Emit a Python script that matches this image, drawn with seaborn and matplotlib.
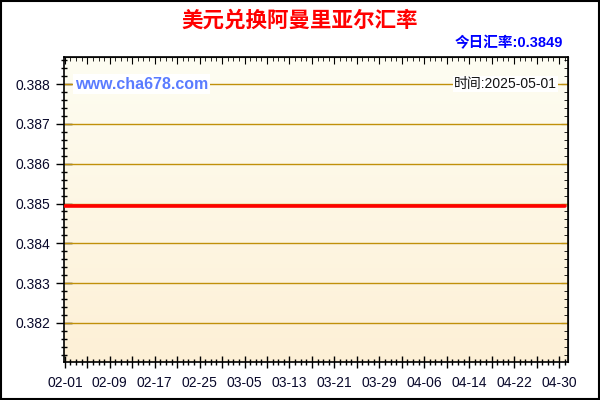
import numpy as np
import pandas as pd
import matplotlib
matplotlib.use("Agg")
import matplotlib.pyplot as plt
import matplotlib.dates as mdates
from matplotlib.colors import LinearSegmentedColormap
from matplotlib.patches import Rectangle
import seaborn as sns

# Data
dates = ["2025-02-01", "2025-05-01"]
rates = [0.38493, 0.38493]
title = "美元兑换阿曼里亚尔汇率"
today_rate = "今日汇率:0.3849"
stamp = "时间:2025-05-01"
site = "www.cha678.com"
y_ticks = [0.382, 0.383, 0.384, 0.385, 0.386, 0.387, 0.388]

sns.set_style("ticks")
plt.rcParams['font.family'] = ['Liberation Sans', 'Noto Sans CJK SC', 'DejaVu Sans']

df = pd.DataFrame({"date": pd.to_datetime(dates), "rate": rates})

fig = plt.figure(figsize=(6, 4), dpi=100)
ax = fig.add_axes([64 / 600, 1 - 362 / 400, 504 / 600, 305 / 400])

x0 = mdates.date2num(pd.Timestamp("2025-02-01")) - 0.15
x1 = mdates.date2num(pd.Timestamp("2025-05-01")) + 0.6
y0, y1 = 0.38102, 0.38868

# background gradient, light at the top
cmap = LinearSegmentedColormap.from_list("bg", ["#fefdf2", "#fdf0d6"])
grad = np.linspace(0, 1, 256).reshape(-1, 1)
ax.imshow(grad, cmap=cmap, aspect="auto", extent=[x0, x1, y0, y1],
          origin="upper", zorder=0)

for yv in y_ticks:
    ax.axhline(yv, color="#c0900a", lw=1, zorder=1)

sns.lineplot(data=df, x="date", y="rate", color="#ff0000", lw=2.6, ax=ax, zorder=3)

ax.set_xlim(x0, x1)
ax.set_ylim(y0, y1)
ax.set_xlabel("")
ax.set_ylabel("")

ax.yaxis.set_major_locator(plt.FixedLocator(y_ticks))
ax.yaxis.set_minor_locator(plt.MultipleLocator(0.0002))
ax.yaxis.set_major_formatter(plt.FormatStrFormatter("%.3f"))

start = pd.Timestamp("2025-02-01")
major = [mdates.date2num(start + pd.Timedelta(days=4 * i)) for i in range(23)]
labels = [(start + pd.Timedelta(days=4 * i)).strftime("%m-%d") if i % 2 == 0 else ""
          for i in range(23)]
ax.xaxis.set_major_locator(plt.FixedLocator(major))
ax.set_xticklabels(labels)
ax.xaxis.set_minor_locator(mdates.DayLocator())

ax.tick_params(axis="both", which="major", direction="inout", length=8, width=1,
               color="black", labelsize=10, labelcolor="#08082a", pad=6)
ax.tick_params(axis="both", which="minor", direction="inout", length=5, width=1, color="black")
ax.tick_params(axis="y", which="major", length=12, pad=4)

for side in ["left", "right", "top", "bottom"]:
    ax.spines[side].set_color("black")
    ax.spines[side].set_linewidth(1.2)

# inward ticks on top and right spines
top = ax.secondary_xaxis("top")
top.xaxis.set_major_locator(plt.FixedLocator(major))
top.xaxis.set_minor_locator(mdates.DayLocator())
top.tick_params(which="both", direction="in", length=3, labeltop=False, color="black")
top.tick_params(which="major", length=5)
right = ax.secondary_yaxis("right")
right.yaxis.set_major_locator(plt.FixedLocator(y_ticks))
right.yaxis.set_minor_locator(plt.MultipleLocator(0.0002))
right.tick_params(which="both", direction="in", length=3, labelright=False, color="black")
right.tick_params(which="major", length=5)

fig.text(0.5, 1 - 21 / 400, title, ha="center", va="center", color="#ff0000",
         fontsize=15.5, fontweight="bold")
fig.text(563 / 600, 1 - 43 / 400, today_rate, ha="right", va="center", color="#0000ff",
         fontsize=10.5, fontweight="bold")
ax.text(0.022, 0.3880, site, transform=ax.get_yaxis_transform(), ha="left", va="center",
        color="#5a7cff", fontsize=11.5, fontweight="bold", zorder=4,
        bbox=dict(facecolor="white", edgecolor="none", pad=1.5))
ax.text(0.978, 0.3880, stamp, transform=ax.get_yaxis_transform(), ha="right", va="center",
        color="#111111", fontsize=10, zorder=4,
        bbox=dict(facecolor="white", edgecolor="none", pad=1.0))

fig.patches.append(Rectangle((0.002, 0.003), 0.996, 0.994, transform=fig.transFigure,
                             fill=False, edgecolor="black", lw=1.5))

fig.savefig("out.png", dpi=100)
